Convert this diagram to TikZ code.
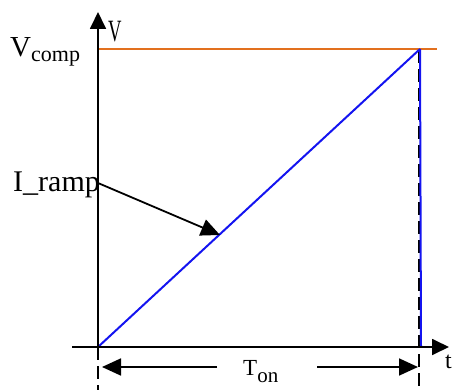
\documentclass[tikz,border=0pt]{standalone}
\usepackage{fontspec}
\setmainfont{Liberation Serif}
\usetikzlibrary{arrows.meta}
\definecolor{orangeline}{RGB}{226,112,30}
\definecolor{blueline}{RGB}{20,20,240}
\begin{document}
\begin{tikzpicture}[x=1pt,y=-1pt,
  axisline/.style={line width=1.8pt,-{Triangle[length=17pt,width=16pt]}},
  pointer/.style={line width=1.8pt,-{Triangle[length=19pt,width=17pt]}},
  guide/.style={line width=1.5pt,dash pattern=on 13pt off 6pt},
  ramp/.style={blueline,line width=2pt},
  level/.style={orangeline,line width=2pt},
  lbl/.style={inner sep=0pt}]
\useasboundingbox (0,0) rectangle (452,390);
% coordinates
\coordinate (O) at (98,347);
\coordinate (Ytop) at (98,12);
\coordinate (Xstart) at (72,347);
\coordinate (Xend) at (449,347);
\coordinate (P) at (420,49);
\coordinate (Q) at (421,347);
\coordinate (Oc) at (98,49);
\coordinate (Oe) at (437,49);
\coordinate (Lb) at (98,390);
\coordinate (Rt) at (419,50);
\coordinate (Rb) at (419,390);
\coordinate (gl) at (217,367);
\coordinate (gr) at (317,367);
\coordinate (al) at (102,367);
\coordinate (ar) at (418,367);
\coordinate (Is) at (98,183);
\coordinate (It) at (220,235);
% guides
\draw[guide] (O) -- (Lb);
\draw[guide] (Rt) -- (Rb);
% level
\draw[level] (Oc) -- (Oe);
% ramp
\draw[ramp] (O) -- (P);
\draw[ramp] (P) -- (Q);
% axes
\draw[axisline] (Xstart) -- (Xend);
\draw[axisline] (O) -- (Ytop);
% double arrow
\draw[pointer] (gl) -- (al);
\draw[pointer] (gr) -- (ar);
% labels
\node[lbl,anchor=base west] (vcomp) at (10,57) {\fontsize{29}{29}\selectfont V\raisebox{-5pt}{\fontsize{22}{22}\selectfont comp}};
\node[lbl,anchor=base west] (vlab) at (108,42) {\fontsize{31}{31}\selectfont\scalebox{0.6}[1]{V}};
\node[lbl,anchor=base west] (iramp) at (13,192) {\fontsize{30}{30}\selectfont I\_ramp};
\node[lbl,anchor=base west] (ton) at (243,375) {\fontsize{23}{23}\selectfont T\raisebox{-7pt}{\fontsize{21}{21}\selectfont on}};
\node[lbl,anchor=base west] (tlab) at (445,368) {\fontsize{24}{24}\selectfont t};
% pointer
\draw[pointer] (Is) -- (It);
\end{tikzpicture}
\end{document}
